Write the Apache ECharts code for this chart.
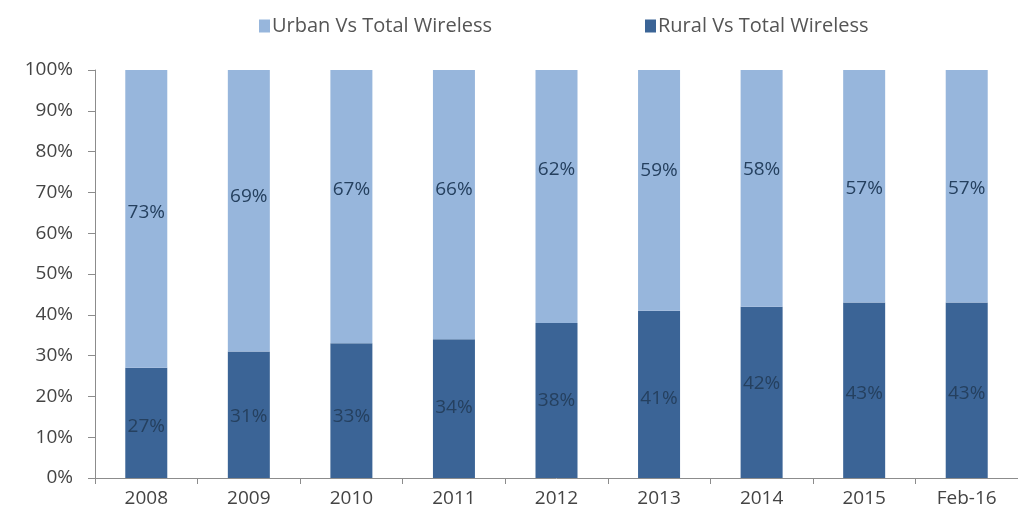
<!DOCTYPE html>
<html>
<head>
<meta charset="utf-8">
<script src="https://cdn.jsdelivr.net/npm/echarts@6/dist/echarts.min.js"></script>
<style>
html,body{margin:0;padding:0;background:#fff;}
#chart{width:1018px;height:519px;}
</style>
</head>
<body>
<div id="chart"></div>
<script>
const categories = ['2008','2009','2010','2011','2012','2013','2014','2015','Feb-16'];
const urbanValues = [73,69,67,66,62,59,58,57,57];
const ruralValues = [27,31,33,34,38,41,42,43,43];
const yTicks = [0,10,20,30,40,50,60,70,80,90,100];

// label vertical nudges (styling only)
const urbanLabelShift = [-6,-14,-17,-15,-27,-20,-19,2,2];
const ruralLabelShift = [4,2,6,-1,0,4,-9,3,3];

const FONT = 'Open Sans';
const labelColor = '#25405f';

const chart = echarts.init(document.getElementById('chart'), null, {renderer:'canvas'});
chart.setOption({
  backgroundColor:'#ffffff',
  animation:false,
  legend:{
    left:254, top:11,
    itemWidth:11, itemHeight:13, itemGap:153,
    icon:'rect',
    textStyle:{fontFamily:FONT, fontSize:20, color:'#555555', padding:[0,0,0,-3]},
    data:['Urban Vs Total Wireless','Rural Vs Total Wireless']
  },
  grid:{left:95, top:70, width:929, height:408, containLabel:false},
  xAxis:{
    type:'category',
    data:categories,
    axisLine:{lineStyle:{color:'#8c8c8c', width:1}},
    axisTick:{show:true, length:6, lineStyle:{color:'#8c8c8c'}},
    axisLabel:{fontFamily:FONT, fontSize:19, color:'#444444', margin:11}
  },
  yAxis:{
    type:'value', min:0, max:100, interval:10,
    axisLine:{show:true, lineStyle:{color:'#8c8c8c', width:1}},
    axisTick:{show:true, length:7, lineStyle:{color:'#8c8c8c'}},
    splitLine:{show:false},
    axisLabel:{fontFamily:FONT, fontSize:19, color:'#444444', margin:22,
      formatter:v => yTicks.includes(v) ? v + '%' : ''}
  },
  series:[
    {
      name:'Rural Vs Total Wireless', type:'bar', stack:'total', barWidth:42,
      itemStyle:{color:'#3b6496'},
      label:{show:true, position:'inside', formatter:'{c}%', fontFamily:FONT, fontSize:19, color:labelColor},
      data:ruralValues.map((v,i)=>({value:v, label:{offset:[0, ruralLabelShift[i]]}}))
    },
    {
      name:'Urban Vs Total Wireless', type:'bar', stack:'total', barWidth:42,
      itemStyle:{color:'#97b6dc'},
      label:{show:true, position:'inside', formatter:'{c}%', fontFamily:FONT, fontSize:19, color:labelColor},
      data:urbanValues.map((v,i)=>({value:v, label:{offset:[0, urbanLabelShift[i]]}}))
    }
  ]
});
</script>
</body>
</html>
